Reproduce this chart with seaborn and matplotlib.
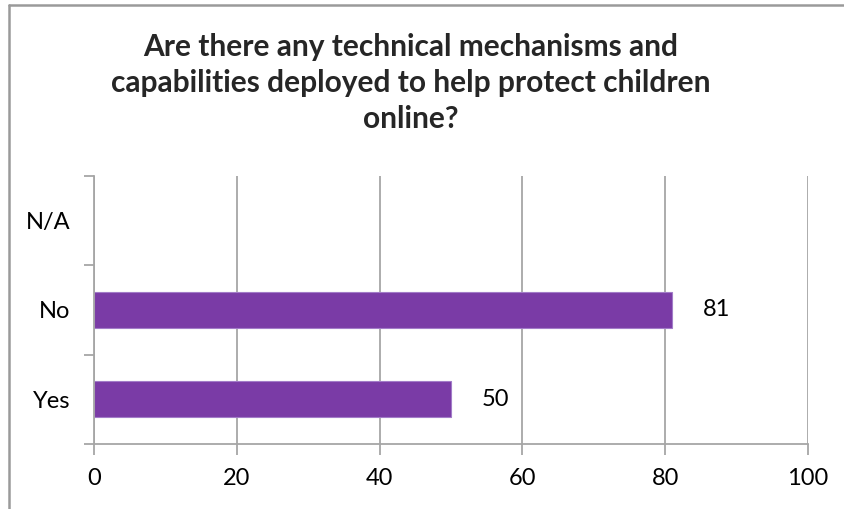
import matplotlib
matplotlib.use("Agg")
import matplotlib.pyplot as plt
from matplotlib.lines import Line2D
import seaborn as sns
import pandas as pd

categories = ["N/A", "No", "Yes"]
responses = ["No", "Yes"]
counts = [81, 50]
x_ticks = [0, 20, 40, 60, 80, 100]
title = "Are there any technical mechanisms and\ncapabilities deployed to help protect children\nonline?"

sns.set_theme(style="white")
plt.rcParams["font.family"] = ["Lato", "DejaVu Sans"]

W, H = 845, 509
fig = plt.figure(figsize=(W / 100, H / 100), dpi=100)
ax = fig.add_axes([94 / W, 1 - 444 / H, (808 - 94) / W, (444 - 176) / H])

df = pd.DataFrame({"response": responses, "count": counts})
sns.barplot(data=df, x="count", y="response", order=categories, orient="h",
            color="#7A3BA6", saturation=1, width=0.4, ax=ax,
            edgecolor="#A27CC8", linewidth=0.8)

grid_c = "#A6A6A6"
ax.set_xlim(0, 100)
ax.set_ylim(2.5, -0.5)
ax.set_xticks(x_ticks)
ax.set_xticklabels([str(t) for t in x_ticks])
ax.xaxis.grid(True, color=grid_c, linewidth=1.3)
ax.set_axisbelow(True)
for s in ["top", "right"]:
    ax.spines[s].set_visible(False)
for s in ["left", "bottom"]:
    ax.spines[s].set_color(grid_c)
    ax.spines[s].set_linewidth(1.3)

ax.set_yticks(range(len(categories)))
ax.set_yticklabels(categories)
ax.set_yticks([-0.5, 0.5, 1.5, 2.5], minor=True)
ax.tick_params(axis="y", which="major", length=0, pad=17, labelsize=17, colors="black")
ax.tick_params(axis="y", which="minor", left=True, length=7, width=1.3, color=grid_c)
ax.tick_params(axis="x", which="major", bottom=True, length=8, width=1.3,
               color=grid_c, pad=9, labelsize=17, labelcolor="black")
ax.set_xlabel("")
ax.set_ylabel("")

for cont in ax.containers:
    ax.bar_label(cont, padding=22, fontsize=17, color="black")

fig.text(411 / W, 1 - 83 / H, title, ha="center", va="center",
         fontsize=21.5, fontweight="bold", linespacing=1.35)

# chart frame edges
fig.add_artist(Line2D([9 / W, 1], [1 - 5 / H, 1 - 5 / H], transform=fig.transFigure,
                      color="#9A9A9A", linewidth=1.8))
fig.add_artist(Line2D([9 / W, 9 / W], [0, 1 - 5 / H], transform=fig.transFigure,
                      color="#9A9A9A", linewidth=1.8))

fig.savefig("out.png", dpi=100)
